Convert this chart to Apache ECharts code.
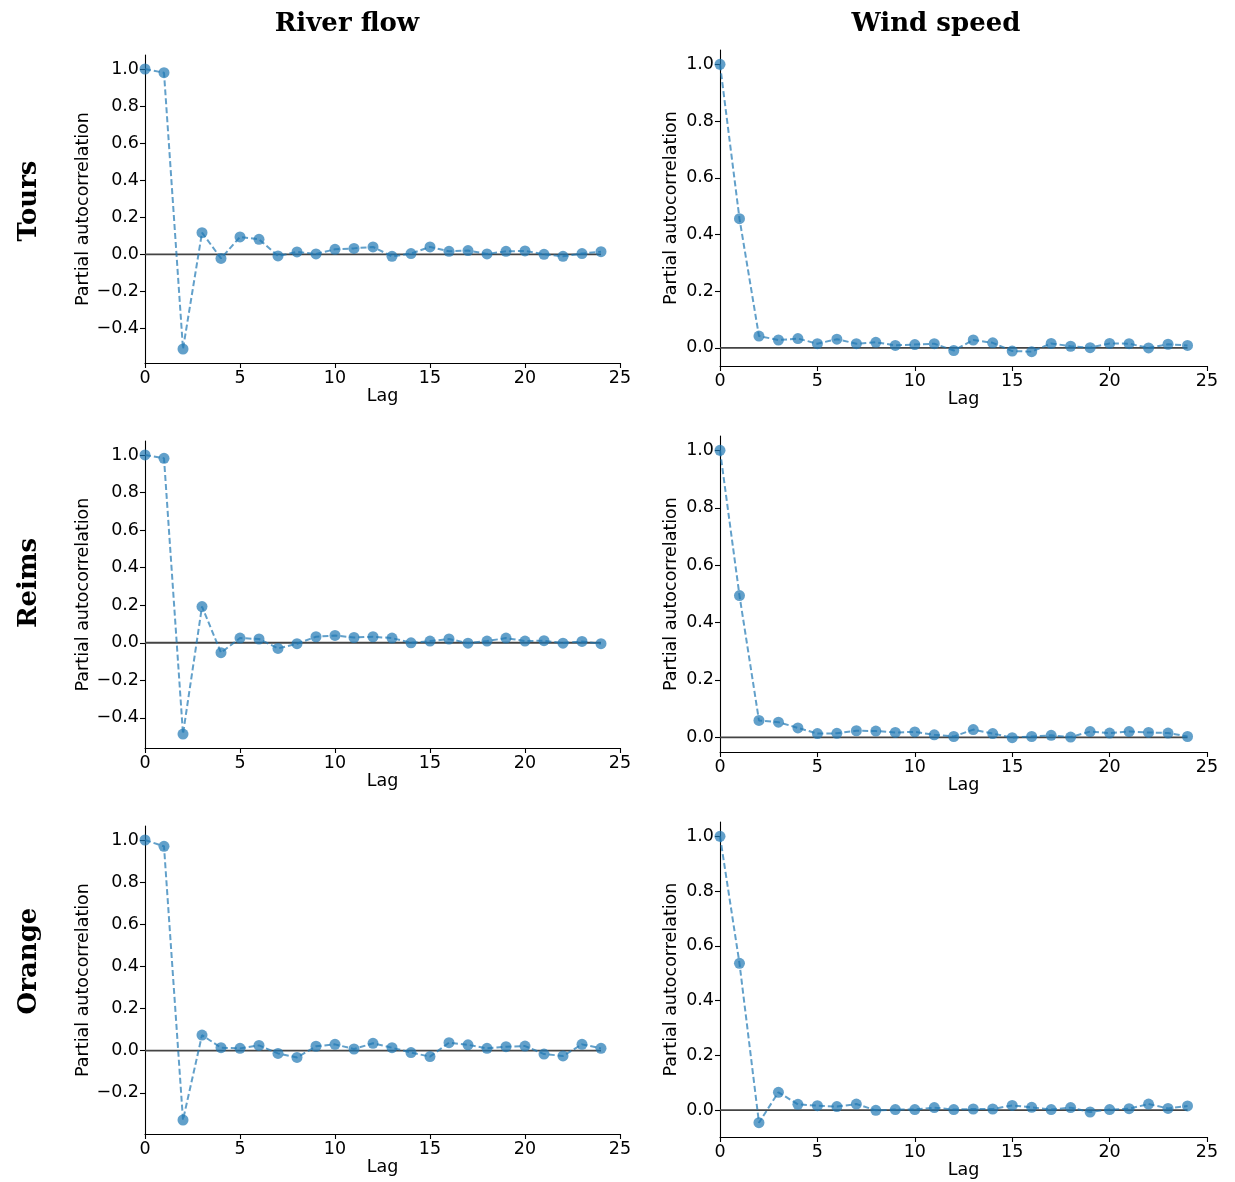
<!DOCTYPE html>
<html><head><meta charset="utf-8">
<script src="https://cdn.jsdelivr.net/npm/echarts@6/dist/echarts.min.js"></script>
<style>html,body{margin:0;padding:0;background:#fff}#c{width:1235px;height:1182px}</style>
</head><body><div id="c"></div>
<script>
// ---------- data ----------
const lags = [0,1,2,3,4,5,6,7,8,9,10,11,12,13,14,15,16,17,18,19,20,21,22,23,24];
const toursRiver  = [1.0,0.980,-0.511,0.117,-0.022,0.094,0.081,-0.009,0.013,0.002,0.027,0.032,0.040,-0.011,0.004,0.040,0.016,0.020,0.002,0.016,0.018,0.000,-0.011,0.004,0.014];
const toursWind   = [1.0,0.456,0.042,0.028,0.033,0.015,0.031,0.015,0.020,0.009,0.012,0.015,-0.009,0.028,0.018,-0.011,-0.013,0.016,0.006,0.001,0.016,0.015,0.000,0.013,0.009];
const reimsRiver  = [1.0,0.982,-0.486,0.193,-0.053,0.025,0.020,-0.030,-0.005,0.032,0.039,0.028,0.032,0.025,0.000,0.009,0.020,-0.002,0.009,0.025,0.009,0.011,-0.002,0.007,-0.005];
const reimsWind   = [1.0,0.494,0.059,0.053,0.033,0.013,0.014,0.023,0.022,0.017,0.019,0.009,0.003,0.027,0.013,-0.001,0.003,0.007,0.001,0.020,0.015,0.020,0.017,0.015,0.003];
const orangeRiver = [1.0,0.970,-0.329,0.074,0.014,0.011,0.025,-0.013,-0.032,0.021,0.030,0.008,0.035,0.014,-0.009,-0.028,0.038,0.028,0.011,0.019,0.022,-0.016,-0.025,0.030,0.011];
const orangeWind  = [1.0,0.536,-0.046,0.065,0.021,0.016,0.013,0.022,-0.001,0.002,0.002,0.009,0.002,0.004,0.004,0.017,0.010,0.002,0.009,-0.007,0.002,0.005,0.022,0.006,0.015];
const xTicks = [0,5,10,15,20,25];
const yTickCandidates = [-0.4,-0.2,0.0,0.2,0.4,0.6,0.8,1.0];
const columnTitles = ['River flow','Wind speed'];
const rowTitles = ['Tours','Reims','Orange'];
const xName = 'Lag';
const yName = 'Partial autocorrelation';

// ---------- layout ----------
const panels = [
  {vals: toursRiver,  box:{left:145, top:55,  width:475, height:308}, gap:52},
  {vals: toursWind,   box:{left:720, top:50,  width:487, height:316}, gap:40},
  {vals: reimsRiver,  box:{left:145, top:441, width:475, height:307}, gap:52},
  {vals: reimsWind,   box:{left:720, top:436, width:487, height:316}, gap:40},
  {vals: orangeRiver, box:{left:145, top:826, width:475, height:308}, gap:52},
  {vals: orangeWind,  box:{left:720, top:822, width:487, height:315}, gap:40}
];
const colTitlePos = [[347,24],[936,24]];
const rowTitlePos = [[29,201],[29,583],[29,961]];

const FONT = 'DejaVu Sans';
const blue = 'rgba(31,119,180,0.7)';
const fmt = v => { const s = Math.abs(v).toFixed(1); return v < -1e-9 ? '\u2212' + s : s; };

const grid = [], xAxis = [], yAxis = [], series = [];
panels.forEach((p, i) => {
  const dmin = Math.min(...p.vals), dmax = Math.max(...p.vals);
  const pad = 0.05 * (dmax - dmin);
  const ymin = dmin - pad, ymax = dmax + pad;
  const yt = yTickCandidates.filter(t => t >= ymin && t <= ymax);
  grid.push(Object.assign({containLabel:false}, p.box));
  xAxis.push({
    type:'value', gridIndex:i, min:xTicks[0], max:xTicks[xTicks.length-1], interval:xTicks[1]-xTicks[0],
    name:xName, nameLocation:'middle', nameGap:24,
    nameTextStyle:{fontFamily:FONT, fontSize:17.5, color:'#000'},
    axisLine:{show:true, onZero:false, lineStyle:{color:'#000', width:1.1}},
    axisTick:{show:true, length:5, lineStyle:{color:'#000', width:1.1}},
    axisLabel:{fontFamily:FONT, fontSize:17.5, color:'#000', margin:6},
    splitLine:{show:false}
  });
  yAxis.push({
    type:'value', gridIndex:i, min:ymin, max:ymax,
    name:yName, nameLocation:'middle', nameGap:p.gap,
    nameTextStyle:{fontFamily:FONT, fontSize:17.5, color:'#000'},
    axisLine:{show:true, onZero:false, lineStyle:{color:'#000', width:1.1}},
    axisTick:{show:true, length:5, customValues:yt, lineStyle:{color:'#000', width:1.1}},
    axisLabel:{fontFamily:FONT, fontSize:17.5, color:'#000', margin:6, customValues:yt, formatter:fmt},
    splitLine:{show:false}
  });
  series.push({
    type:'line', xAxisIndex:i, yAxisIndex:i, silent:true, z:1,
    data: lags.map(l => [l, 0]), symbol:'none',
    lineStyle:{color:'#444', width:1.8}
  });
  series.push({
    type:'line', xAxisIndex:i, yAxisIndex:i, z:3,
    data: lags.map((l, k) => [l, p.vals[k]]),
    symbol:'circle', symbolSize:11, clip:true,
    itemStyle:{color:blue},
    lineStyle:{color:blue, width:2, type:[6,3]}
  });
});

const graphic = [];
columnTitles.forEach((t, i) => graphic.push({
  type:'text', x:colTitlePos[i][0], y:colTitlePos[i][1],
  style:{text:t, fontFamily:'DejaVu Serif', fontWeight:'bold', fontSize:26, fill:'#000', align:'center', verticalAlign:'middle'}
}));
rowTitles.forEach((t, i) => graphic.push({
  type:'text', x:rowTitlePos[i][0], y:rowTitlePos[i][1], rotation:Math.PI/2,
  style:{text:t, fontFamily:'DejaVu Serif', fontWeight:'bold', fontSize:26, fill:'#000', align:'center', verticalAlign:'middle'}
}));

const chart = echarts.init(document.getElementById('c'), null, {renderer:'canvas'});
chart.setOption({animation:false, backgroundColor:'#fff', grid, xAxis, yAxis, series, graphic});
</script>
</body></html>
